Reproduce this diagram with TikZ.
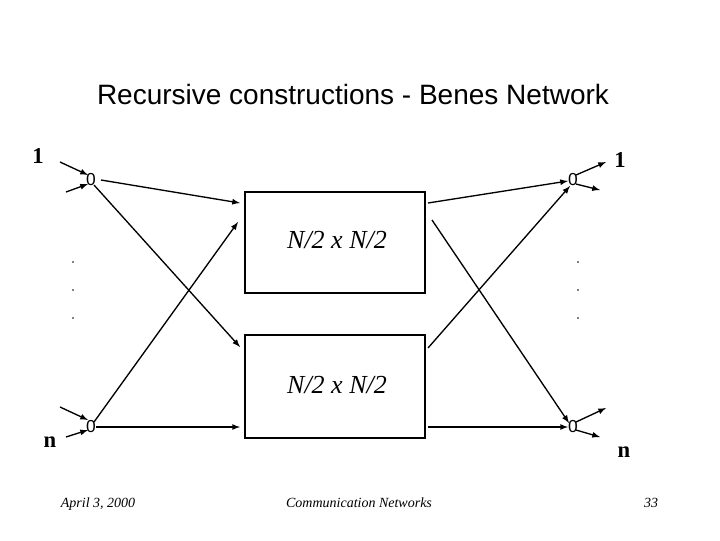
\documentclass[tikz,border=0pt]{standalone}
\usepackage{fontspec}
\setmainfont{Liberation Serif}
\setsansfont{Liberation Sans}
\begin{document}
\begin{tikzpicture}[x=0.75pt,y=-0.75pt,>=latex,
  ln/.style={line width=1pt},
  sw/.style={font=\sffamily\fontsize{13}{13}\selectfont,inner sep=0pt},
  big/.style={font=\bfseries\fontsize{17}{17}\selectfont},
  blk/.style={draw,line width=1.2pt},
  foot/.style={font=\itshape\fontsize{10.5}{10.5}\selectfont,anchor=base}]
\useasboundingbox (0,0) rectangle (720,540);
\node[font=\sffamily\fontsize{21}{21}\selectfont] (title) at (353,94) {Recursive constructions - Benes Network};
\draw[blk] (245,192) rectangle (425,293);
\draw[blk] (245,335) rectangle (425,438);
\node[font=\itshape\fontsize{19.5}{19.5}\selectfont] (t1) at (337,240) {N/2 x N/2};
\node[font=\itshape\fontsize{19.5}{19.5}\selectfont] (t2) at (337,385) {N/2 x N/2};
\node[sw] (a) at (91,180) {0};
\node[sw] (b) at (91,427) {0};
\node[sw] (c) at (573,180) {0};
\node[sw] (d) at (573,427) {0};
\coordinate (i1) at (60,162); \coordinate (i2) at (66,192);
\coordinate (i3) at (60,407); \coordinate (i4) at (66,437);
\coordinate (u1) at (240,203); \coordinate (u2) at (238,222);
\coordinate (l1) at (240,347); \coordinate (l2) at (240,427);
\coordinate (r1) at (428,203); \coordinate (r2) at (432,220);
\coordinate (s1) at (428,348); \coordinate (s2) at (428,427);
\coordinate (o1) at (606,162); \coordinate (o2) at (600,190);
\coordinate (o3) at (606,408); \coordinate (o4) at (600,437);
\draw[ln,->] (i1) -- (88,175);
\draw[ln,->] (i2) -- (88,184);
\draw[ln,->] (i3) -- (88,420);
\draw[ln,->] (i4) -- (88,430);
\draw[ln,->] (101,180) -- (u1);
\draw[ln,->] (94,185) -- (l1);
\draw[ln,->] (94,422) -- (u2);
\draw[ln,->] (96,427) -- (l2);
\draw[ln,->] (r1) -- (568,181);
\draw[ln,->] (r2) -- (569,423);
\draw[ln,->] (s1) -- (570,186);
\draw[ln,->] (s2) -- (568,427);
\draw[ln,->] (576,175) -- (o1);
\draw[ln,->] (576,184) -- (o2);
\draw[ln,->] (576,422) -- (o3);
\draw[ln,->] (576,430) -- (o4);
\node[big] (n1) at (38,156) {1};
\node[big] (n2) at (50,442) {n};
\node[big] (n3) at (620,160) {1};
\node[big] (n4) at (624,452) {n};
\foreach \y in {262,290,318}{\fill (73,\y) circle (0.9); \fill (578,\y) circle (0.9);}
\node[foot] (f1) at (98,507) {April 3, 2000};
\node[foot] (f2) at (359,507) {Communication Networks};
\node[foot] (f3) at (651,507) {33};
\end{tikzpicture}
\end{document}
